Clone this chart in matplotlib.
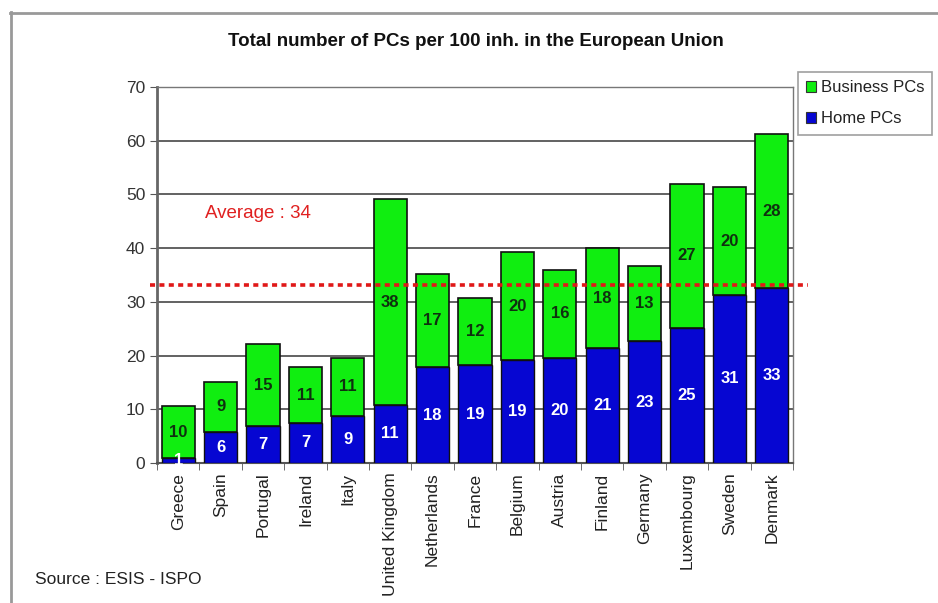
import matplotlib
matplotlib.use("Agg")
import matplotlib.pyplot as plt
from matplotlib.patches import Patch
from matplotlib.lines import Line2D
import matplotlib.transforms as mtransforms
import numpy as np

plt.rcParams['font.family'] = ['Liberation Sans', 'DejaVu Sans']

countries = ["Greece", "Spain", "Portugal", "Ireland", "Italy", "United Kingdom",
             "Netherlands", "France", "Belgium", "Austria", "Finland", "Germany",
             "Luxembourg", "Sweden", "Denmark"]
home = [0.9, 5.8, 6.8, 7.5, 8.8, 10.8, 17.8, 18.2, 19.2, 19.6, 21.4, 22.7, 25.1, 31.3, 32.5]
business = [9.7, 9.3, 15.4, 10.3, 10.7, 38.3, 17.4, 12.6, 20.0, 16.3, 18.6, 13.9, 26.9, 20.0, 28.8]
home_labels = [1, 6, 7, 7, 9, 11, 18, 19, 19, 20, 21, 23, 25, 31, 33]
business_labels = [10, 9, 15, 11, 11, 38, 17, 12, 20, 16, 18, 13, 27, 20, 28]
average_line = 33.2
average_text = "Average : 34"
yticks = [0, 10, 20, 30, 40, 50, 60, 70]
title = "Total number of PCs per 100 inh. in the European Union"
source = "Source : ESIS - ISPO"

W, H = 938, 603
fig = plt.figure(figsize=(W / 100, H / 100), dpi=100)
fig.patch.set_facecolor("white")

ax = fig.add_axes([157 / W, 1 - 463 / H, (793 - 157) / W, (463 - 87) / H])

x = np.arange(len(countries))
green = "#10ee10"
blue = "#0606d2"
ax.bar(x, home, width=0.78, color=blue, edgecolor="#101010", linewidth=1.0, zorder=3)
ax.bar(x, business, bottom=home, width=0.78, color=green, edgecolor="#101010",
       linewidth=1.2, zorder=3)

for i in range(len(countries)):
    ax.text(x[i], home[i] / 2, str(home_labels[i]), ha="center", va="center",
            color="white", fontsize=12, fontweight="bold", zorder=5)
    ax.text(x[i], home[i] + business[i] / 2, str(business_labels[i]), ha="center",
            va="center", color="#0f300f", fontsize=12, fontweight="bold", zorder=5)

ax.set_xlim(-0.5, len(countries) - 0.5)
ax.set_ylim(0, 70)
ax.set_yticks(yticks)
ax.yaxis.grid(True, color="#555555", linewidth=1.3, zorder=0)
ax.set_axisbelow(True)

ax.set_xticks(x)
ax.set_xticklabels(countries, rotation=90, fontsize=12.5, color="#222222")
ax.tick_params(axis="x", which="major", length=0, pad=7)
ax.set_xticks(np.arange(-0.5, len(countries)), minor=True)
ax.tick_params(axis="x", which="minor", length=5, color="#555555", direction="out")
ax.tick_params(axis="y", length=5, color="#555555", labelsize=12.5, labelcolor="#333333")

for s in ["top", "right"]:
    ax.spines[s].set_color("#777777")
    ax.spines[s].set_linewidth(1.0)
ax.spines["left"].set_color("#666666")
ax.spines["left"].set_linewidth(2.0)
ax.spines["bottom"].set_color("#555555")
ax.spines["bottom"].set_linewidth(1.5)

# average line
trans = mtransforms.blended_transform_factory(ax.transAxes, ax.transData)
ax.plot([-0.011, 1.024], [average_line, average_line], transform=trans,
        color="#e01818", linewidth=2.6, linestyle=(0, (1.4, 1.2)), clip_on=False, zorder=4)
ax.text(0.63, 46.5, average_text, color="#e02020", fontsize=13.5, ha="left", va="center")

fig.text(476 / W, 1 - 42 / H, title, ha="center", va="center", fontsize=13.5,
         fontweight="bold", color="#111111")
fig.text(35 / W, 1 - 580 / H, source, ha="left", va="center", fontsize=12.5,
         color="#222222")

handles = [Patch(facecolor=green, edgecolor="#333333", linewidth=0.8),
           Patch(facecolor=blue, edgecolor="#333333", linewidth=0.8)]
leg = fig.legend(handles, ["Business PCs", "Home PCs"], loc="upper left",
                 bbox_to_anchor=(798 / W, 1 - 72 / H), frameon=True, fancybox=False,
                 fontsize=12, handlelength=0.6, handleheight=0.6, handletextpad=0.25,
                 borderpad=0.5, labelspacing=0.95, borderaxespad=0)
leg.get_frame().set_edgecolor("#888888")
leg.get_frame().set_linewidth(1.2)
for t in leg.get_texts():
    t.set_color("#222222")

# outer frame
fig.add_artist(Line2D([10 / W, 1.0], [1 - 12.5 / H, 1 - 12.5 / H], transform=fig.transFigure,
                      color="#999999", linewidth=2))
fig.add_artist(Line2D([10.5 / W, 10.5 / W], [1 - 12 / H, 0], transform=fig.transFigure,
                      color="#999999", linewidth=2))

fig.savefig("out.png", dpi=100, facecolor="white")
